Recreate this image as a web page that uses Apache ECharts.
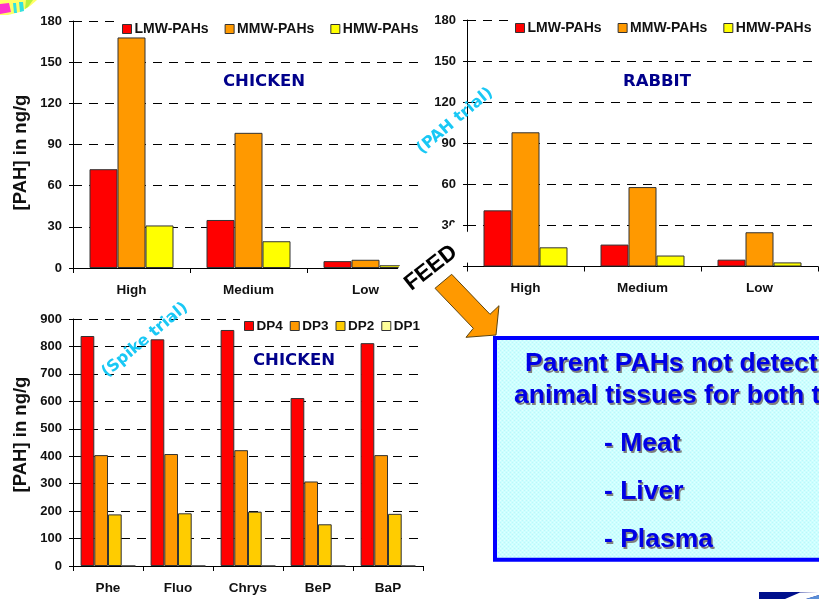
<!DOCTYPE html>
<html>
<head>
<meta charset="utf-8">
<style>html,body{margin:0;padding:0;background:#fff}#c{width:819px;height:599px}</style>
<script src="https://cdn.jsdelivr.net/npm/echarts@6/dist/echarts.min.js"></script>
</head>
<body>
<div id="c"></div>
<script>
// Feed concentrations by dose level
const doseLevels = ['High', 'Medium', 'Low'];
const chickenLMW = [72, 35, 5];
const chickenMMW = [168, 98.5, 6];
const chickenHMW = [31, 19.5, 2];
const rabbitLMW = [41, 16, 5];
const rabbitMMW = [98, 58, 25];
const rabbitHMW = [14, 8, 3];

// Spike trial: compound concentrations by depuration period
const compounds = ['Phe', 'Fluo', 'Chrys', 'BeP', 'BaP'];
const dp4 = [838, 826, 860, 612, 812];
const dp3 = [404, 408, 422, 308, 404];
const dp2 = [188, 192, 198, 152, 190];
const dp1 = [0, 0, 0, 0, 0];

const FONT = '"Liberation Sans", Arial, sans-serif';
const RED = '#ff0000', ORANGE = '#ff9900', YELLOW = '#ffff00', AMBER = '#ffcc00', PALE = '#ffff99';

const chart = echarts.init(document.getElementById('c'), null, {renderer: 'canvas'});

function xAx(i, data) {
  return {
    gridIndex: i, type: 'category', data,
    axisLine: {lineStyle: {color: '#000', width: 1}},
    axisTick: {show: true, length: 5, lineStyle: {color: '#000'}},
    axisLabel: {color: '#111', fontFamily: FONT, fontWeight: 'bold', fontSize: 13.5, margin: 15},
    splitLine: {show: false}
  };
}
function yAx(i, max, step) {
  // The axis title sits off-centre: padding pushes it along the rotated text direction
  const titlePad = i === 2 ? [0, 0, 0, 16] : [0, 16, 0, 0];
  return {
    gridIndex: i, type: 'value', min: 0, max, interval: step,
    name: i === 1 ? '' : '[PAH] in ng/g', nameLocation: 'middle', nameRotate: 90, nameGap: 43,
    nameTextStyle: {color: '#111', fontFamily: FONT, fontWeight: 'bold', fontSize: 18.5, padding: titlePad},
    axisLine: {show: true, lineStyle: {color: '#000', width: 1}},
    axisTick: {show: true, length: 4, lineStyle: {color: '#000'}},
    axisLabel: {color: '#111', fontFamily: FONT, fontWeight: 'bold', fontSize: 13, margin: 11},
    splitLine: {show: true, lineStyle: {color: '#000', type: [9, 7], width: 1}}
  };
}
function bar(name, data, i, color, w) {
  return {
    name, type: 'bar', data, xAxisIndex: i, yAxisIndex: i,
    barWidth: w, barGap: 0, z: 3,
    itemStyle: {color, borderColor: '#333', borderWidth: 1}
  };
}
function legend(names, left, top, gap, size) {
  return {
    data: names, left, top, orient: 'horizontal', icon: 'rect', itemWidth: 9, itemHeight: 9, itemGap: gap,
    padding: [3, 3, 3, 3], z: 6, selectedMode: false,
    textStyle: {color: '#111', fontFamily: FONT, fontWeight: 'bold', fontSize: size, padding: [0, 0, 0, -2]},
    itemStyle: {borderColor: '#333', borderWidth: 1}
  };
}
function label(text, x, y, o) {
  return {
    type: 'text', x, y, rotation: (o.rot || 0) * Math.PI / 180, z: 20,
    style: Object.assign({
      text, fill: '#00008b', fontFamily: '"DejaVu Sans", sans-serif', fontWeight: 'bold', fontSize: 16.5,
      align: 'center', verticalAlign: 'middle'
    }, o.style || {})
  };
}

// Fine mottled fill for the note panel
function panelPattern() {
  const cv = document.createElement('canvas');
  cv.width = 4; cv.height = 4;
  const g = cv.getContext('2d');
  g.fillStyle = '#ccffff'; g.fillRect(0, 0, 4, 4);
  g.fillStyle = '#e2ffff'; g.fillRect(0, 0, 1, 1); g.fillRect(2, 2, 1, 1);
  g.fillStyle = '#bdf6fa'; g.fillRect(2, 0, 1, 1); g.fillRect(0, 2, 1, 1);
  return {image: cv, repeat: 'repeat'};
}
function noteLine(text, x, y) {
  const base = {text, fontFamily: FONT, fontWeight: 'bold', fontSize: 26.5, align: 'left', verticalAlign: 'middle'};
  return [
    {type: 'text', x: x + 1.5, y: y + 1.5, z: 31, style: Object.assign({fill: '#7f7f7f'}, base)},
    {type: 'text', x, y, z: 32, style: Object.assign({fill: '#0000e6'}, base)}
  ];
}
function poly(points, fill, z) {
  return {type: 'polygon', z: z || 40, shape: {points}, style: {fill}};
}
function whiteRect(x, y, width, height) {
  return {type: 'rect', z: 2, shape: {x, y, width, height}, style: {fill: '#fff'}};
}

chart.setOption({
  animation: false,
  backgroundColor: '#fff',
  grid: [
    {left: 73, top: 21, width: 351, height: 247},
    {left: 467, top: 20, width: 351, height: 246.5},
    {left: 73, top: 319, width: 350, height: 247}
  ],
  xAxis: [xAx(0, doseLevels), xAx(1, doseLevels), xAx(2, compounds)],
  yAxis: [yAx(0, 180, 30), yAx(1, 180, 30), yAx(2, 900, 100)],
  legend: [
    legend(['LMW-PAHs', 'MMW-PAHs', 'HMW-PAHs'], 119, 19, 16, 14),
    legend(['LMW-PAHs', 'MMW-PAHs', 'HMW-PAHs'], 512, 18, 16, 14),
    legend(['DP4', 'DP3', 'DP2', 'DP1'], 241, 316, 7, 13.5)
  ],
  series: [
    bar('LMW-PAHs', chickenLMW, 0, RED, 28),
    bar('MMW-PAHs', chickenMMW, 0, ORANGE, 28),
    bar('HMW-PAHs', chickenHMW, 0, YELLOW, 28),
    bar('LMW-PAHs', rabbitLMW, 1, RED, 28),
    bar('MMW-PAHs', rabbitMMW, 1, ORANGE, 28),
    bar('HMW-PAHs', rabbitHMW, 1, YELLOW, 28),
    bar('DP4', dp4, 2, RED, 13.7),
    bar('DP3', dp3, 2, ORANGE, 13.7),
    bar('DP2', dp2, 2, AMBER, 13.7),
    bar('DP1', dp1, 2, PALE, 13.7)
  ],
  graphic: [
    // Clear strips behind the legends
    whiteRect(115, 14, 312, 18),
    whiteRect(508, 13, 311, 18),
    whiteRect(240, 313, 186, 18),

    label('CHICKEN', 264, 82, {}),
    label('RABBIT', 657, 82, {}),
    label('CHICKEN', 294, 361, {}),
    label('(PAH trial)', 455, 121, {rot: 40, style: {fill: '#19c8f5', fontSize: 16}}),
    label('(Spike trial)', 145, 340, {rot: 40, style: {fill: '#19c8f5', fontSize: 16}}),

    // White backing of the FEED callout
    poly([[396, 272], [421, 229], [441, 233], [456, 221], [461, 226], [470, 234], [470, 262], [462, 264],
          [452, 285], [415, 300], [396, 290]], '#fff', 15),
    label('FEED', 431, 268, {rot: 38, style: {fill: '#000', fontFamily: FONT, fontSize: 22.5}}),
    {type: 'polygon', z: 16,
      shape: {points: [[451.7, 274.3], [435, 288.3], [473.3, 328.3], [466, 337.3], [496, 335], [499, 305.7], [490, 314.3]]},
      style: {fill: ORANGE, stroke: '#5c4410', lineWidth: 1}},

    // Note panel, running off the right edge
    {type: 'rect', z: 30, shape: {x: 495, y: 338, width: 340, height: 221.7},
      style: {fill: panelPattern(), stroke: '#0000ff', lineWidth: 4}},
    ...noteLine('Parent PAHs not detect', 525, 364),
    ...noteLine('animal tissues for both t', 514, 396),
    ...noteLine('- Meat', 604, 444),
    ...noteLine('- Liver', 604, 492),
    ...noteLine('- Plasma', 604, 540),

    // Logo fragment, top-left corner
    poly([[0, 0], [37, 0], [30, 6], [20, 12], [8, 15], [0, 15]], '#ffff66'),
    poly([[0, 4], [9, 3], [11, 12], [0, 14]], '#ff33cc', 41),
    poly([[13, 3], [16, 3], [17, 13], [14, 13]], '#33e0e0', 41),
    poly([[19, 2], [23, 2], [24, 11], [20, 12]], '#33e0e0', 41),
    poly([[26, 0], [33, 0], [28, 7], [25, 9]], '#b7f03c', 41),

    // Logo fragment, bottom-right corner
    poly([[759, 592], [819, 592], [819, 599], [759, 599]], '#00108c'),
    poly([[785, 599], [800, 592.5], [819, 592], [819, 595], [806, 599]], '#ffffff', 41),
    poly([[806, 599], [819, 595], [819, 599]], '#5a8fd8', 41)
  ]
});
</script>
</body>
</html>
